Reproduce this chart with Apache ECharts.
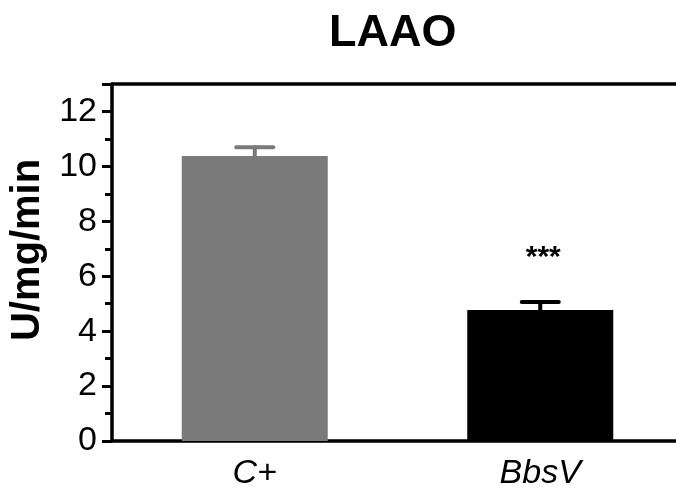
<!DOCTYPE html>
<html>
<head>
<meta charset="utf-8">
<script src="https://cdn.jsdelivr.net/npm/echarts@6/dist/echarts.min.js"></script>
<style>
  html, body { margin: 0; padding: 0; background: #fff; }
  #chart { width: 676px; height: 488px; }
</style>
</head>
<body>
<div id="chart"></div>
<script>
// data
const groups = ['C+', 'BbsV'];
const means = [10.38, 4.77];
const errUpper = [10.7, 5.06];
const signif = ['', '***'];
const barColors = ['#7a7a7a', '#000000'];

const FONT = 'Liberation Sans, Arial, sans-serif';

const chart = echarts.init(document.getElementById('chart'));

const axisLineStyle = { color: '#000', width: 3.5 };

const option = {
  animation: false,
  backgroundColor: '#fff',
  title: {
    text: 'LAAO',
    left: 324,
    top: 6,
    textStyle: { fontFamily: FONT, fontSize: 45, fontWeight: 'bold', color: '#000' }
  },
  grid: {
    left: 112, width: 571, top: 84, height: 357,
    outerBoundsMode: 'none',
    containLabel: false
  },
  graphic: [{
    type: 'text',
    x: 28, y: 250,
    rotation: Math.PI / 2,
    style: {
      text: 'U/mg/min',
      font: 'bold 40px ' + FONT,
      fill: '#000',
      align: 'center',
      verticalAlign: 'middle'
    }
  }],
  xAxis: [
    {
      type: 'category',
      data: groups,
      axisLine: { lineStyle: axisLineStyle },
      axisTick: { alignWithLabel: true, length: 11, lineStyle: { color: '#000', width: 3 } },
      axisLabel: { fontFamily: FONT, fontSize: 34, fontStyle: 'italic', color: '#000', margin: 16 }
    },
    {
      // plain frame line along the top of the plot
      type: 'category',
      data: groups,
      position: 'top',
      axisLine: { show: true, lineStyle: axisLineStyle },
      axisTick: { show: false },
      axisLabel: { show: false }
    }
  ],
  yAxis: {
    type: 'value',
    min: 0, max: 13, interval: 2,
    axisLine: { show: true, lineStyle: axisLineStyle },
    axisTick: { show: true, length: 10, lineStyle: { color: '#000', width: 3 } },
    minorTick: { show: true, splitNumber: 2, length: 7, lineStyle: { color: '#000', width: 3 } },
    splitLine: { show: false },
    axisLabel: { fontFamily: FONT, fontSize: 34, color: '#000', margin: 15 }
  },
  series: [
    {
      type: 'bar',
      barWidth: 146,
      data: means.map((v, i) => ({ value: v, itemStyle: { color: barColors[i] } }))
    },
    {
      type: 'custom',
      data: groups.map((g, i) => [i, means[i], errUpper[i]]),
      z: 3,
      renderItem: function (params, api) {
        const i = api.value(0);
        const base = api.coord([i, api.value(1)]);
        const top = api.coord([i, api.value(2)]);
        const half = 18.5;
        const color = barColors[i];
        const style = { stroke: color, lineWidth: 4, lineCap: 'round' };
        const children = [
          { type: 'line', shape: { x1: base[0], y1: base[1], x2: top[0], y2: top[1] }, style: style },
          { type: 'line', shape: { x1: top[0] - half, y1: top[1], x2: top[0] + half, y2: top[1] }, style: style }
        ];
        if (signif[i]) {
          children.push({
            type: 'text',
            x: top[0] + 3, y: top[1] - 44,
            style: {
              text: signif[i],
              font: 'bold 30px ' + FONT,
              fill: '#000',
              align: 'center',
              verticalAlign: 'middle'
            }
          });
        }
        return { type: 'group', children: children };
      }
    }
  ]
};

chart.setOption(option);
</script>
</body>
</html>
